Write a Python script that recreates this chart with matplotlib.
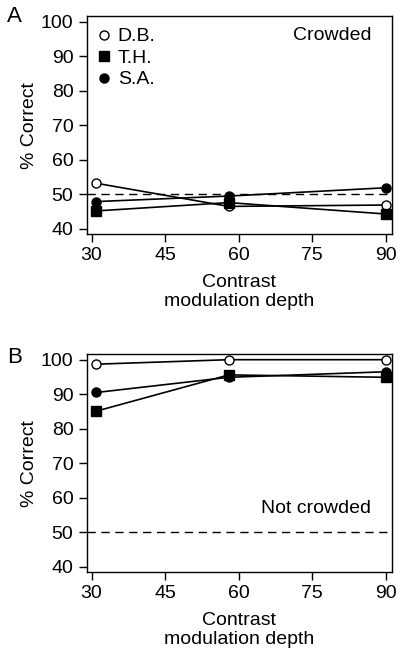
import numpy as np
import matplotlib.pyplot as plt

plt.rcParams['font.family'] = ['Liberation Sans', 'DejaVu Sans']

depth = [31, 58, 90]
observers = ["D.B.", "T.H.", "S.A."]
crowded = {
    "D.B.": [53.2, 46.5, 46.9],
    "T.H.": [45.2, 47.6, 44.3],
    "S.A.": [47.9, 49.5, 51.9],
}
not_crowded = {
    "D.B.": [98.7, 100.0, 100.0],
    "T.H.": [85.1, 95.6, 94.9],
    "S.A.": [90.5, 94.9, 96.5],
}
xticks = [30, 45, 60, 75, 90]
yticks = [40, 50, 60, 70, 80, 90, 100]

styles = {
    "D.B.": dict(marker="o", markerfacecolor="white", markersize=6.5),
    "T.H.": dict(marker="s", markerfacecolor="black", markersize=6.5),
    "S.A.": dict(marker="o", markerfacecolor="black", markersize=6.5),
}

fig = plt.figure(figsize=(4.0, 6.62), dpi=100)
ax1 = fig.add_axes([0.2165, 0.6465, 0.7625, 0.329])
ax2 = fig.add_axes([0.2165, 0.136, 0.7625, 0.329])


def draw(ax, data, note, note_y, legend):
    ax.axhline(50, color="black", lw=1.0, ls=(0, (6, 4)), zorder=1)
    for name in observers:
        ax.plot(depth, data[name], color="black", lw=1.2,
                markeredgecolor="black", markeredgewidth=1.0,
                label=name, zorder=3, **styles[name])
    ax.set_xlim(29.0, 91.2)
    ax.set_ylim(38.5, 101.6)
    ax.set_xticks(xticks)
    ax.set_yticks(yticks)
    ax.tick_params(direction="out", length=6, width=1, labelsize=14, pad=3.5)
    for s in ax.spines.values():
        s.set_linewidth(1.0)
    ax.set_ylabel("% Correct", fontsize=14)
    ax.yaxis.set_label_coords(-0.16, 0.5)
    ax.set_xlabel("Contrast\nmodulation depth", fontsize=14, linespacing=1.15)
    ax.xaxis.set_label_coords(0.5, -0.185)
    ax.text(87, note_y, note, ha="right", va="center", fontsize=14)
    if legend:
        leg = ax.legend(loc="upper left", frameon=False, fontsize=14,
                        handlelength=0.6, handletextpad=0.4,
                        labelspacing=0.2, borderaxespad=0.3,
                        borderpad=0.3)
        for h in leg.legend_handles:
            h.set_linestyle("none")


draw(ax1, crowded, "Crowded", 95.9, True)
draw(ax2, not_crowded, "Not crowded", 57, False)

fig.text(0.0175, 1 - 6 / 662, "A", fontsize=16, va="top", ha="left")
fig.text(0.0175, 1 - 347 / 662, "B", fontsize=16, va="top", ha="left")

fig.savefig("out.png", dpi=100)
